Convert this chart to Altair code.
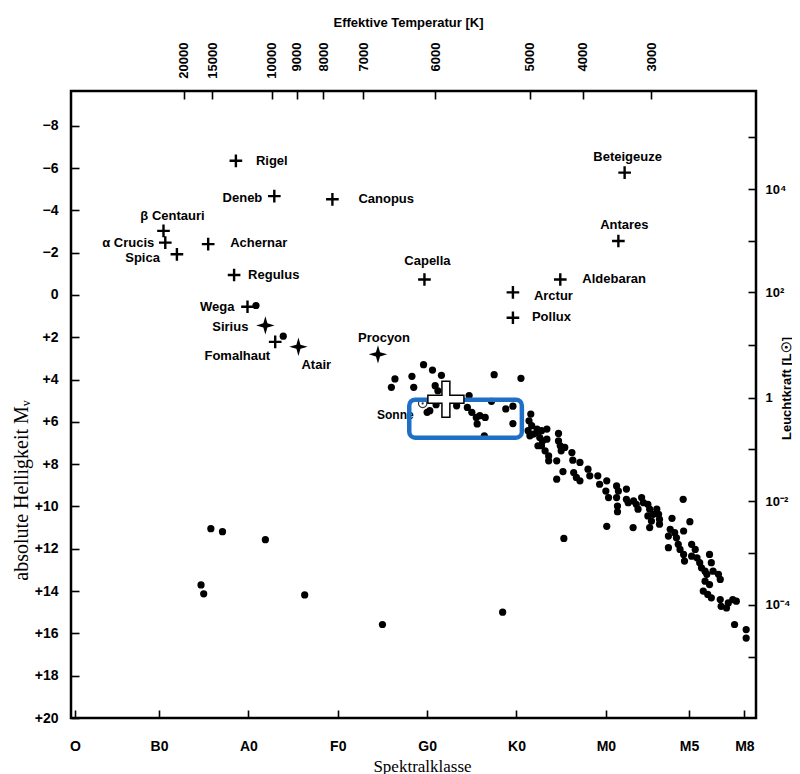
import altair as alt
import pandas as pd

# ---------------- data ----------------
# Spectral class axis (numeric position, 10 units per class)
spec_ticks = [0.6, 10, 20, 30, 40, 50, 60, 69.3, 75.5]
spec_labels = ["O", "B0", "A0", "F0", "G0", "K0", "M0", "M5", "M8"]

# top axis: effective temperature tick positions (in spectral units)
temp_pos = [12.76, 15.97, 22.61, 25.39, 28.39, 32.87, 40.93, 51.5, 57.42, 65.1]
temp_labels = ["20000", "15000", "10000", "9000", "8000", "7000", "6000", "5000", "4000", "3000"]

# left axis: absolute magnitude ticks
mv_ticks = list(range(-8, 21, 2))

# right axis: luminosity ticks (positions in Mv) and labels
lum_pos = [-7.45, -5.0, -2.55, -0.12, 2.35, 4.85, 7.3, 9.75, 12.2, 14.65, 17.1]
lum_labels = ["", "10⁴", "", "10²", "", "1", "", "10⁻²", "", "10⁻⁴", ""]

# named stars
star_names = ["Rigel", "Deneb", "Canopus", "β Centauri", "α Crucis", "Spica", "Achernar",
              "Regulus", "Wega", "Sirius", "Fomalhaut", "Atair", "Procyon", "Capella",
              "Beteigeuze", "Antares", "Aldebaran", "Arctur", "Pollux"]
star_spec = [18.6, 22.9, 29.4, 10.5, 10.7, 12.0, 15.5, 18.4, 19.9, 21.9, 23.0, 25.6, 34.5,
             39.7, 62.1, 61.4, 54.9, 49.6, 49.6]
star_mv = [-6.34, -4.67, -4.52, -3.03, -2.47, -1.92, -2.40, -0.94, 0.56, 1.44, 2.22, 2.45,
           2.81, -0.73, -5.78, -2.55, -0.73, -0.12, 1.08]
star_kind = ["cross", "cross", "cross", "cross", "cross", "cross", "cross", "cross", "cross",
             "bright", "cross", "bright", "bright", "cross", "cross", "cross", "cross",
             "cross", "cross"]

# the Sun
sun_spec = [39.5]
sun_mv = [5.13]

# unnamed stars (spectral position, Mv)
upper_ms = [(39.6, 3.3), (40.6, 3.55), (41.6, 3.8), (38.3, 3.85), (36.4, 3.97), (47.5, 3.77),
            (50.5, 3.94), (36.0, 4.37), (38.5, 4.37), (40.9, 4.29), (41.2, 4.53), (40.0, 5.55),
            (41.0, 5.19), (43.3, 5.24), (44.7, 4.76), (44.5, 5.32), (45.0, 5.55), (45.5, 5.79),
            (46.5, 5.79), (45.6, 6.1), (46.4, 6.66), (48.8, 5.39), (49.6, 5.26), (49.6, 6.08),
            (47.2, 5.03), (45.9, 5.71), (40.3, 5.47), (20.85, 0.5), (23.9, 1.95)]
lower_ms = [(51.6, 5.63), (51.4, 5.95), (51.7, 6.18), (51.3, 6.42), (51.9, 6.58), (51.5, 6.66),
            (52.3, 6.34), (52.4, 6.5), (52.8, 6.42), (53.4, 6.34), (52.6, 6.74), (52.9, 6.9),
            (52.8, 7.13), (52.4, 7.13), (53.4, 6.82), (53.2, 7.37), (53.6, 7.61), (53.6, 7.84),
            (54.7, 6.55), (54.7, 6.9), (54.9, 7.13), (55.0, 7.37), (55.4, 7.21), (54.5, 7.84),
            (54.5, 8.71), (55.2, 8.35), (56.2, 7.45), (56.3, 7.81), (56.4, 8.4), (56.7, 8.63),
            (57.1, 8.79), (57.1, 7.92), (58.0, 8.24), (58.2, 8.55), (59.1, 8.55), (59.3, 8.95),
            (60.1, 8.79), (60.0, 9.27), (60.3, 9.58), (61.2, 9.03), (61.4, 9.27), (61.2, 9.58),
            (61.3, 9.98), (61.3, 10.25), (62.3, 9.18), (62.3, 9.66), (62.5, 9.82), (63.1, 9.74),
            (63.4, 9.9), (63.6, 10.13), (64.0, 9.58), (64.2, 9.82), (64.7, 9.9), (64.9, 10.13),
            (65.3, 10.37), (64.7, 10.45), (65.1, 10.69), (64.9, 11.0), (65.7, 10.13),
            (65.9, 10.37), (66.0, 10.61), (66.0, 10.84), (67.4, 10.56), (67.2, 11.08),
            (67.0, 11.4), (67.7, 11.24), (67.9, 11.48), (68.7, 11.16), (69.4, 10.72),
            (67.0, 11.95), (68.1, 11.79), (68.3, 12.03), (68.7, 12.27), (68.8, 12.58),
            (69.6, 11.79), (70.0, 12.03), (69.6, 12.35), (70.2, 12.43), (70.5, 12.66),
            (70.7, 12.9), (71.1, 13.06), (71.3, 13.21), (71.6, 12.27), (71.8, 12.66),
            (72.0, 13.06), (72.6, 13.21), (72.8, 13.45), (71.1, 13.53), (71.6, 13.69),
            (70.9, 14.0), (71.4, 14.16), (71.8, 14.32), (72.8, 14.4), (72.9, 14.72),
            (73.7, 14.56), (74.2, 14.4), (74.6, 14.48), (73.5, 14.8), (74.4, 15.58),
            (75.7, 15.82), (75.7, 16.22)]
faint = [(15.8, 11.05), (17.1, 11.19), (21.9, 11.57), (14.7, 13.71), (15.0, 14.13),
         (26.3, 14.18), (35.0, 15.58), (48.45, 15.0), (55.3, 11.51), (60.1, 10.94),
         (63.05, 11.0), (68.65, 9.66)]

# highlighted region (blue box) and pointer position
box_spec = [38.0, 50.6]
box_mv = [4.95, 6.75]
pointer_spec = [42.1]
pointer_mv = [4.93]

# ---------------- styling ----------------
X_DOM = [0.15, 76.8]
Y_DOM = [-9.64, 20.0]
SANS = "Liberation Sans"
SERIF = "Liberation Serif"

LABEL_POS = {
    "Rigel": ("left", 20, 0), "Deneb": ("right", -12, 2), "Canopus": ("left", 26, 0),
    "β Centauri": ("center", 9, -15), "α Crucis": ("right", -11, 0),
    "Spica": ("right", -17, 4), "Achernar": ("left", 22, -1), "Regulus": ("left", 14, 0),
    "Wega": ("right", -13, 0), "Sirius": ("right", -17, 2), "Fomalhaut": ("right", -5, 14),
    "Atair": ("left", 3, 18), "Procyon": ("center", 6, -16), "Capella": ("center", 3, -18),
    "Beteigeuze": ("center", 3, -16), "Antares": ("center", 6, -16),
    "Aldebaran": ("left", 22, 0), "Arctur": ("left", 21, 4), "Pollux": ("left", 19, -1),
}

PLUS = "M-1,0H1M0,-1V1"
STAR4 = "M0,-1L0.22,-0.22L1,0L0.22,0.22L0,1L-0.22,0.22L-1,0L-0.22,-0.22Z"
POINTER = "M-0.22,-1H0.22V-0.22H1V0.22H0.22V1H-0.22V0.22H-1V-0.22H-0.22Z"


def list_expr(vals):
    return "[" + ",".join(repr(v) for v in vals) + "]"


common_axis = dict(domain=False, grid=False, ticks=True, tickSize=8, tickWidth=1.6,
                   tickColor="black", offset=-8, labelFont=SANS, labelFontWeight="bold",
                   labelColor="black", labelFlush=False, labelOverlap=False,
                   titleColor="black")

x_axis = alt.Axis(orient="bottom", values=spec_ticks,
                  labelExpr=f"{list_expr(spec_labels)}[indexof({list_expr(spec_ticks)}, datum.value)]",
                  labelPadding=21, labelFontSize=14,
                  title="Spektralklasse", titleFont=SERIF, titleFontSize=17,
                  titleFontWeight="normal", titleX=351, titleY=56, titleAlign="center",
                  titleBaseline="middle", **common_axis)
y_axis = alt.Axis(orient="left", values=mv_ticks,
                  labelExpr="datum.value > 0 ? '+' + datum.value : (datum.value < 0 ? '\u2212' + abs(datum.value) : '0')",
                  labelPadding=13, labelFontSize=14,
                  title="absolute Helligkeit    Mᵥ", titleFont=SERIF, titleFontSize=20,
                  titleFontWeight="normal", titleAngle=270, titleX=-58, titleY=399,
                  titleAlign="center", titleBaseline="middle", **common_axis)
top_axis = alt.Axis(orient="top", values=temp_pos,
                    labelExpr=f"{list_expr(temp_labels)}[indexof({list_expr(temp_pos)}, datum.value)]",
                    labelAngle=270, labelAlign="right", labelBaseline="middle",
                    labelPadding=49, labelFontSize=13,
                    title="Effektive Temperatur [K]", titleFont=SANS, titleFontSize=13,
                    titleFontWeight="bold", titleX=337, titleY=-77, titleAlign="center",
                    titleBaseline="middle", **common_axis)
right_axis = alt.Axis(orient="right", values=lum_pos,
                      labelExpr=f"{list_expr(lum_labels)}[indexof({list_expr(lum_pos)}, datum.value)]",
                      labelPadding=9, labelFontSize=13,
                      title="Leuchtkraft [L☉]", titleFont=SANS, titleFontSize=13,
                      titleFontWeight="bold", titleAngle=270, titleX=38, titleY=297,
                      titleAlign="center", titleBaseline="middle", **common_axis)

xs = alt.Scale(domain=X_DOM, nice=False, zero=False)
ys = alt.Scale(domain=Y_DOM, nice=False, zero=False, reverse=True)


def X(field):
    return alt.X(f"{field}:Q", scale=xs, axis=x_axis)


def Y(field):
    return alt.Y(f"{field}:Q", scale=ys, axis=y_axis)


# ---------------- tables ----------------
stars_df = pd.DataFrame({"name": star_names, "spec": star_spec, "mv": star_mv, "kind": star_kind})
dots_df = pd.DataFrame(upper_ms + lower_ms + faint, columns=["spec", "mv"])
sun_df = pd.DataFrame({"spec": sun_spec, "mv": sun_mv, "name": ["Sonne"]})
box_df = pd.DataFrame({"x1": [box_spec[0]], "x2": [box_spec[1]], "y1": [box_mv[0]], "y2": [box_mv[1]]})
pointer_df = pd.DataFrame({"spec": pointer_spec, "mv": pointer_mv})

# ---------------- layers ----------------
dots = alt.Chart(dots_df).mark_point(shape="circle", filled=True, size=52, color="black",
                                     opacity=1, strokeWidth=0).encode(x=X("spec"), y=Y("mv"))

crosses = alt.Chart(stars_df[stars_df.kind == "cross"]).mark_point(
    shape=PLUS, filled=False, size=160, color="black", strokeWidth=2.4, opacity=1
).encode(x=X("spec"), y=Y("mv"))

bright = alt.Chart(stars_df[stars_df.kind == "bright"]).mark_point(
    shape=STAR4, filled=True, size=340, color="black", opacity=1
).encode(x=X("spec"), y=Y("mv"))

sun_ring = alt.Chart(sun_df).mark_point(shape="circle", filled=False, size=70, color="#333",
                                        strokeWidth=1.2, opacity=1).encode(x=X("spec"), y=Y("mv"))
sun_dot = alt.Chart(sun_df).mark_point(shape="circle", filled=True, size=5, color="#333",
                                       opacity=1).encode(x=X("spec"), y=Y("mv"))

label_layers = []
for nm, (al, dx, dy) in LABEL_POS.items():
    label_layers.append(
        alt.Chart(stars_df[stars_df.name == nm]).mark_text(
            align=al, baseline="middle", dx=dx, dy=dy, font=SANS, fontSize=13,
            fontWeight="bold", color="black"
        ).encode(x=X("spec"), y=Y("mv"), text="name:N")
    )
label_layers.append(
    alt.Chart(sun_df).mark_text(align="right", baseline="middle", dx=-9, dy=12, font=SANS,
                                fontSize=12, fontWeight="bold", color="black"
                                ).encode(x=X("spec"), y=Y("mv"), text="name:N")
)

box = alt.Chart(box_df).mark_rect(fill="white", fillOpacity=0, stroke="#1f6fc5",
                                  strokeWidth=4.5, cornerRadius=6).encode(
    x=X("x1"), x2="x2", y=Y("y1"), y2="y2")

pointer = alt.Chart(pointer_df).mark_point(shape=POINTER, filled=True, size=1300, fill="white",
                                           stroke="black", strokeWidth=1.5, opacity=1
                                           ).encode(x=X("spec"), y=Y("mv"))

inner = alt.layer(dots, crosses, bright, sun_ring, sun_dot, *label_layers, box, pointer)

axes_df = pd.DataFrame({"spec": temp_pos, "mv": [0.0] * len(temp_pos)})
axes_layer = alt.Chart(axes_df).mark_point(opacity=0).encode(
    x=alt.X("spec:Q", scale=xs, axis=top_axis),
    y=alt.Y("mv:Q", scale=ys, axis=right_axis),
)

chart = alt.layer(inner, axes_layer).resolve_scale(x="independent", y="independent").properties(
    width=685, height=627,
    autosize=alt.AutoSizeParams(type="none"),
    padding={"left": 63, "top": 83, "right": 36, "bottom": 56},
    background="white",
).configure_view(stroke="black", strokeWidth=2.5)

chart.save("out.html", embed_options={"renderer": "svg", "actions": False})
